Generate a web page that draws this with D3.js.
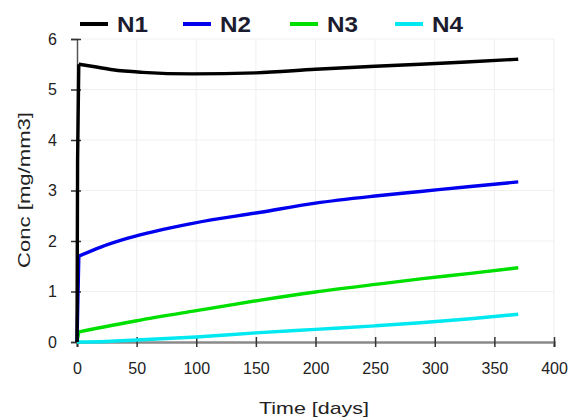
<!DOCTYPE html>
<html><head><meta charset="utf-8">
<script src="https://cdn.jsdelivr.net/npm/d3@7"></script>
<style>body{margin:0;background:#fff}svg{display:block}</style>
</head><body>
<svg id="c" width="586" height="419"></svg>
<script>
const seriesNames = ["N1","N2","N3","N4"];
const seriesColors = ["#000000","#0000ee","#00e000","#00e8f0"];
const xTicks = [0,50,100,150,200,250,300,350,400];
const yTicks = [0,1,2,3,4,5,6];
// initial jump (straight segments) then smooth evolution
const n1Jump = [[0,0],[0.5,3.6],[1.5,5.5]];
const n1 = [[1.5,5.5],[15,5.45],[30,5.39],[55,5.34],[97,5.31],[150,5.33],[200,5.4],[250,5.46],[288,5.5],[330,5.55],[370,5.6]];
const n2Jump = [[0,0],[1.5,1.7]];
const n2 = [[1.5,1.7],[20,1.88],[42,2.05],[97,2.35],[154,2.57],[200,2.75],[250,2.89],[288,2.98],[330,3.08],[370,3.17]];
const n3Jump = [[0,0],[1.5,0.2]];
const n3 = [[1.5,0.2],[50,0.42],[100,0.62],[154,0.83],[200,0.99],[250,1.14],[288,1.25],[330,1.36],[370,1.47]];
const n4Jump = [[0,0]];
const n4 = [[0,0],[25,0.01],[50,0.04],[100,0.1],[150,0.18],[200,0.25],[250,0.32],[288,0.38],[330,0.46],[370,0.55]];
const jumps = [n1Jump,n2Jump,n3Jump,n4Jump];
const allSeries = [n1,n2,n3,n4];

const FONT = "Arial, 'Liberation Sans', sans-serif";
const svg = d3.select("#c");
const x = d3.scaleLinear().domain([0,400]).range([77,554]);
const y = d3.scaleLinear().domain([0,6]).range([342,39]);

// grid
svg.append("g").selectAll("line").data(xTicks.slice(1)).join("line")
  .attr("x1",d=>x(d)).attr("x2",d=>x(d)).attr("y1",y(0)).attr("y2",y(6))
  .attr("stroke","#efefef").attr("stroke-width",1);
svg.append("g").selectAll("line").data(yTicks.slice(1)).join("line")
  .attr("x1",x(0)).attr("x2",x(400)).attr("y1",d=>y(d)).attr("y2",d=>y(d))
  .attr("stroke","#efefef").attr("stroke-width",1);

// axes
const xAxis = svg.append("g").attr("transform",`translate(0,${y(0)})`)
  .call(d3.axisBottom(x).tickValues(xTicks).tickFormat(d3.format("d")).tickSize(5).tickPadding(16));
xAxis.select(".domain").attr("stroke","#8a8a8a").attr("stroke-width",2.5);
xAxis.selectAll(".tick line").attr("y1",-5).attr("stroke","#333").attr("stroke-width",1.5);
xAxis.selectAll("text").attr("font-family",FONT).attr("font-size",16).attr("fill","#222");

const yAxis = svg.append("g").attr("transform",`translate(${x(0)},0)`)
  .call(d3.axisLeft(y).tickValues(yTicks).tickFormat(d3.format("d")).tickSize(6).tickPadding(14));
yAxis.select(".domain").attr("stroke","#555").attr("stroke-width",1.5);
yAxis.selectAll(".tick line").attr("x1",4).attr("x2",-6).attr("stroke","#333").attr("stroke-width",1.5);
yAxis.selectAll("text").attr("font-family",FONT).attr("font-size",16).attr("fill","#222");

// lines
const lineLin = d3.line().x(d=>x(d[0])).y(d=>y(d[1]));
const lineCurve = d3.line().x(d=>x(d[0])).y(d=>y(d[1])).curve(d3.curveMonotoneX);
[3,2,1,0].forEach(i=>{
  svg.append("path").datum(allSeries[i]).attr("d",lineCurve)
    .attr("fill","none").attr("stroke",seriesColors[i]).attr("stroke-width",3.4)
    .attr("stroke-linejoin","round");
  if (jumps[i].length > 1) {
    svg.append("path").datum(jumps[i]).attr("d",lineLin)
      .attr("fill","none").attr("stroke",seriesColors[i]).attr("stroke-width",3.4)
      .attr("stroke-linejoin","round");
  }
});

// legend
const legX = [80,183,290,395];
const lg = svg.append("g");
seriesNames.forEach((n,i)=>{
  lg.append("line").attr("x1",legX[i]).attr("x2",legX[i]+28).attr("y1",24).attr("y2",24)
    .attr("stroke",seriesColors[i]).attr("stroke-width",4);
  lg.append("text").attr("x",legX[i]+37).attr("y",32).text(n)
    .attr("font-family",FONT).attr("font-weight","bold")
    .attr("font-size",22).attr("fill","#1c1c30")
    .attr("textLength",31).attr("lengthAdjust","spacingAndGlyphs");
});

// axis titles
svg.append("text").attr("x",314).attr("y",414).attr("text-anchor","middle")
  .attr("font-family",FONT).attr("font-size",17).attr("fill","#222")
  .attr("textLength",110).attr("lengthAdjust","spacingAndGlyphs")
  .text("Time [days]");
svg.append("text").attr("transform","translate(30,190) rotate(-90)").attr("text-anchor","middle")
  .attr("font-family",FONT).attr("font-size",17).attr("fill","#222")
  .attr("textLength",156).attr("lengthAdjust","spacingAndGlyphs")
  .text("Conc [mg/mm3]");
</script>
</body></html>
